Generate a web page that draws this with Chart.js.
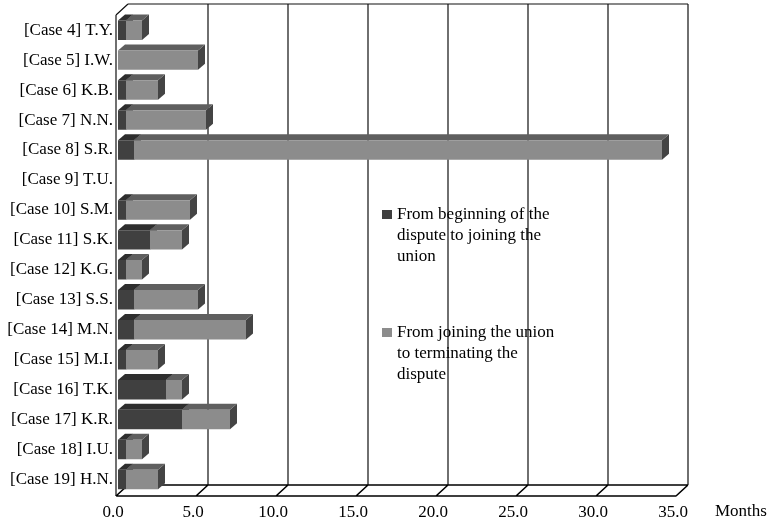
<!DOCTYPE html>
<html>
<head>
<meta charset="utf-8">
<script src="https://cdn.jsdelivr.net/npm/chart.js@4"></script>
<style>
  html, body { margin: 0; padding: 0; background: #fff; }
  #wrap { width: 770px; height: 525px; }
</style>
</head>
<body>
<div id="wrap"><canvas id="c" width="770" height="525"></canvas></div>
<script>
const categories = [
  '[Case 4] T.Y.', '[Case 5] I.W.', '[Case 6] K.B.', '[Case 7] N.N.',
  '[Case 8] S.R.', '[Case 9] T.U.', '[Case 10] S.M.', '[Case 11] S.K.',
  '[Case 12] K.G.', '[Case 13] S.S.', '[Case 14] M.N.', '[Case 15] M.I.',
  '[Case 16] T.K.', '[Case 17] K.R.', '[Case 18] I.U.', '[Case 19] H.N.'
];
const beginToJoin = [0.5, 0, 0.5, 0.5, 1.0, 0, 0.5, 2.0, 0.5, 1.0, 1.0, 0.5, 3.0, 4.0, 0.5, 0.5];
const joinToEnd   = [1.0, 5.0, 2.0, 5.0, 33.0, 0, 4.0, 2.0, 1.0, 4.0, 7.0, 2.0, 1.0, 3.0, 1.0, 2.0];
const legendLines1 = ['From beginning of the', 'dispute to joining the', 'union'];
const legendLines2 = ['From joining the union', 'to terminating the', 'dispute'];
const xTicks = [0, 5, 10, 15, 20, 25, 30, 35];
const axisUnit = 'Months';

const FONT = '"Liberation Serif", "Times New Roman", serif';
const frontColors = ['#404040', '#8c8c8c'];
const topColors = ['#2e2e2e', '#5f5f5f'];
const sideColors = ['#262626', '#444444'];
const BAR_DX = 7, BAR_DY = -6;

const wallPlugin = {
  id: 'wall3d',
  beforeDatasetsDraw(chart) {
    const ctx = chart.ctx, xs = chart.scales.x, ca = chart.chartArea;
    const frontY = ca.bottom + 1.5, backY = frontY - 11, topY = 4;
    const fx = v => xs.getPixelForValue(v) - 2;
    const bx = v => xs.getPixelForValue(v) + 10;
    const minV = xTicks[0], maxV = xTicks[xTicks.length - 1];
    ctx.save();
    ctx.strokeStyle = '#111';
    ctx.lineWidth = 1.2;
    ctx.beginPath();
    xTicks.forEach(v => { if (v !== minV) { ctx.moveTo(bx(v), topY); ctx.lineTo(bx(v), backY); } });
    ctx.moveTo(bx(minV), topY); ctx.lineTo(bx(maxV), topY);
    ctx.moveTo(fx(minV), topY + 11); ctx.lineTo(bx(minV), topY);
    ctx.moveTo(fx(minV), topY + 11); ctx.lineTo(fx(minV), frontY);
    ctx.stroke();
    ctx.lineWidth = 1.6;
    ctx.strokeStyle = '#000';
    ctx.beginPath();
    ctx.moveTo(fx(minV), frontY); ctx.lineTo(fx(maxV), frontY);
    ctx.moveTo(bx(minV), backY); ctx.lineTo(bx(maxV), backY);
    xTicks.forEach(v => { ctx.moveTo(fx(v), frontY); ctx.lineTo(bx(v), backY); });
    ctx.stroke();
    ctx.restore();

    const m0 = chart.getDatasetMeta(0).data, m1 = chart.getDatasetMeta(1).data;
    const vals = [beginToJoin, joinToEnd];
    ctx.save();
    for (let i = 0; i < categories.length; i++) {
      [[0, m0[i]], [1, m1[i]]].forEach(([d, el]) => {
        if (!el || vals[d][i] <= 0) return;
        const p = el.getProps(['x', 'y', 'base', 'height'], true);
        const x0 = Math.min(p.base, p.x), x1 = Math.max(p.base, p.x);
        const y0 = p.y - p.height / 2, y1 = p.y + p.height / 2;
        ctx.fillStyle = sideColors[d];
        ctx.beginPath();
        ctx.moveTo(x1, y0); ctx.lineTo(x1 + BAR_DX, y0 + BAR_DY);
        ctx.lineTo(x1 + BAR_DX, y1 + BAR_DY); ctx.lineTo(x1, y1); ctx.closePath();
        ctx.fill();
        ctx.fillStyle = topColors[d];
        ctx.beginPath();
        ctx.moveTo(x0, y0); ctx.lineTo(x1, y0);
        ctx.lineTo(x1 + BAR_DX, y0 + BAR_DY); ctx.lineTo(x0 + BAR_DX, y0 + BAR_DY); ctx.closePath();
        ctx.fill();
      });
    }
    ctx.restore();
  },
  afterDraw(chart) {
    const ctx = chart.ctx;
    ctx.save();
    ctx.font = '17px ' + FONT;
    ctx.fillStyle = '#000';
    ctx.textBaseline = 'middle';
    ctx.textAlign = 'left';
    ctx.fillText(axisUnit, 715, 512);
    const items = [[legendLines1, 215], [legendLines2, 333]];
    items.forEach(([lines, y], d) => {
      ctx.fillStyle = frontColors[d];
      ctx.fillRect(382, y - 5, 10, 9);
      ctx.fillStyle = '#000';
      lines.forEach((t, k) => ctx.fillText(t, 397, y + k * 21));
    });
    ctx.restore();
  }
};

new Chart(document.getElementById('c'), {
  type: 'bar',
  data: {
    labels: categories,
    datasets: [
      { label: legendLines1.join(' '), data: beginToJoin, backgroundColor: frontColors[0], borderWidth: 0,
        barPercentage: 0.65, categoryPercentage: 1.0 },
      { label: legendLines2.join(' '), data: joinToEnd, backgroundColor: frontColors[1], borderWidth: 0,
        barPercentage: 0.65, categoryPercentage: 1.0 }
    ]
  },
  options: {
    indexAxis: 'y',
    responsive: false,
    animation: false,
    devicePixelRatio: 1,
    layout: { padding: { left: 0, right: 92, top: 12.5, bottom: 0 } },
    plugins: { legend: { display: false }, tooltip: { enabled: false } },
    scales: {
      x: {
        stacked: true, min: 0, max: 35,
        afterFit: s => { s.height = 30.5; },
        afterBuildTicks: s => { s.ticks = xTicks.map(v => ({ value: v })); },
        grid: { display: false, drawTicks: false },
        border: { display: false },
        ticks: { color: '#000', font: { family: FONT, size: 17 }, padding: 8, labelOffset: -5,
                 callback: v => Number(v).toFixed(1) }
      },
      y: {
        stacked: true,
        afterFit: s => { s.width = 118; },
        grid: { display: false, drawTicks: false },
        border: { display: false },
        ticks: { color: '#000', font: { family: FONT, size: 17 }, padding: 5 }
      }
    }
  },
  plugins: [wallPlugin]
});
</script>
</body>
</html>
